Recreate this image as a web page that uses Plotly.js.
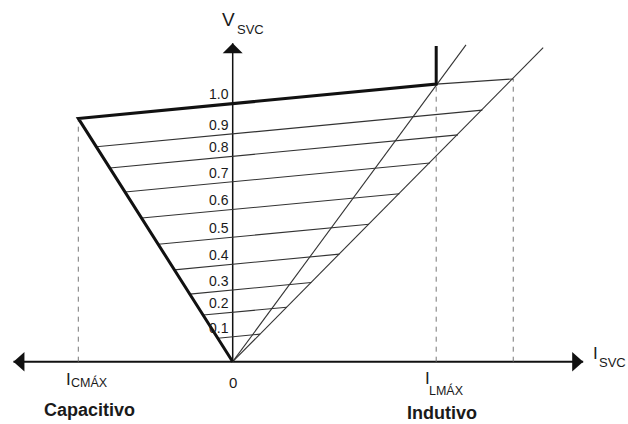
<!DOCTYPE html>
<html>
<head>
<meta charset="utf-8">
<script src="https://cdn.plot.ly/plotly-3.0.1.min.js"></script>
<style>html,body{margin:0;padding:0;background:#fff;}#chart{width:628px;height:424px;}</style>
</head>
<body>
<div id="chart"></div>
<script>
// ---- data (I in units of I_CMAX, V in pu) ----
const levelLabels = ["0.1","0.2","0.3","0.4","0.5","0.6","0.7","0.8","0.9"];
const levelLeftI  = [-0.097,-0.191,-0.278,-0.378,-0.482,-0.589,-0.697,-0.796,-0.883];
const levelLeftV  = [0.091,0.181,0.262,0.356,0.455,0.557,0.658,0.751,0.833];
const levelRightI = [0.177,0.350,0.509,0.691,0.883,1.080,1.277,1.459,1.617];
const levelRightV = [0.107,0.211,0.307,0.417,0.533,0.651,0.770,0.879,0.975];

const characteristicI = [0, -1.0, 1.318, 1.318];
const characteristicV = [0, 0.943, 1.076, 1.224];
const topLabel = "1.0";
const extensionI = [1.318, 1.817];
const extensionV = [1.076, 1.096];
const slope1I = [0, 1.511];
const slope1V = [0, 1.228];
const slope2I = [0, 2.011];
const slope2V = [0, 1.217];
const axisIRange = [-1.42, 2.27];
const axisVMax = 1.234;

// ---- page geometry helpers (layout only) ----
const W = 628, H = 424;
const xRange = [-232.7/154.4, (W-232.7)/154.4];
const yRange = [(361.7-H)/258, 361.7/258];
const px = p => p / W;           // paper x from pixel
const py = p => 1 - p / H;       // paper y from pixel

const lineCol = '#111';
const thinCol = '#333';
const dashCol = '#777';

const traces = [];
// horizontal axis
traces.push({x: axisIRange, y: [0, 0], mode: 'lines', line: {color: lineCol, width: 2}, hoverinfo: 'skip'});
// vertical axis
traces.push({x: [0, 0], y: [0, axisVMax], mode: 'lines', line: {color: lineCol, width: 1.5}, hoverinfo: 'skip'});

// dashed limits
const dx = [], dy = [];
[[characteristicI[1], characteristicV[1]], [characteristicI[2], characteristicV[2]], [extensionI[1], extensionV[1]]].forEach(p => {
  dx.push(p[0], p[0], null); dy.push(0, p[1], null);
});
traces.push({x: dx, y: dy, mode: 'lines', line: {color: dashCol, width: 1, dash: '5px,5px'}, hoverinfo: 'skip'});

// level lines
const lx = [], ly = [];
levelLabels.forEach((l, i) => {
  lx.push(levelLeftI[i], levelRightI[i], null);
  ly.push(levelLeftV[i], levelRightV[i], null);
});
lx.push(extensionI[0], extensionI[1]); ly.push(extensionV[0], extensionV[1]);
traces.push({x: lx, y: ly, mode: 'lines', line: {color: thinCol, width: 1.1}, hoverinfo: 'skip'});

// inductive slope lines
traces.push({x: slope1I, y: slope1V, mode: 'lines', line: {color: thinCol, width: 1.1}, hoverinfo: 'skip'});
traces.push({x: slope2I, y: slope2V, mode: 'lines', line: {color: thinCol, width: 1.1}, hoverinfo: 'skip'});

// thick characteristic
traces.push({x: characteristicI, y: characteristicV, mode: 'lines', line: {color: lineCol, width: 3}, hoverinfo: 'skip'});

// arrowheads (pixel-sized shapes anchored at axis ends)
const shapes = [
  {type: 'path', xref: 'x', yref: 'y', xsizemode: 'pixel', ysizemode: 'pixel', xanchor: 0, yanchor: axisVMax,
   path: 'M0,0 L-10,-10 L10,-10 Z', fillcolor: lineCol, line: {width: 0}},
  {type: 'path', xref: 'x', yref: 'y', xsizemode: 'pixel', ysizemode: 'pixel', xanchor: axisIRange[0], yanchor: 0,
   path: 'M0,0 L11,9.7 L11,-9.7 Z', fillcolor: lineCol, line: {width: 0}},
  {type: 'path', xref: 'x', yref: 'y', xsizemode: 'pixel', ysizemode: 'pixel', xanchor: axisIRange[1], yanchor: 0,
   path: 'M0,0 L-11,9.7 L-11,-9.7 Z', fillcolor: lineCol, line: {width: 0}}
];

const font = 'Liberation Sans, Arial, sans-serif';
const txtCol = '#1a1a1a';
const ann = [];
function addText(text, x, y, size, opts) {
  ann.push(Object.assign({text: text, x: x, y: y, xref: 'paper', yref: 'paper', showarrow: false,
    xanchor: 'center', yanchor: 'middle', borderpad: 0, font: {family: font, size: size, color: txtCol}}, opts || {}));
}

// level labels at the V-axis crossing of each line
levelLabels.forEach((l, i) => {
  const t = -levelLeftI[i] / (levelRightI[i] - levelLeftI[i]);
  const v0 = levelLeftV[i] + t * (levelRightV[i] - levelLeftV[i]);
  ann.push({text: l, x: -0.015, y: v0, xref: 'x', yref: 'y', showarrow: false, xanchor: 'right', yanchor: 'bottom',
    borderpad: 0, yshift: 0, font: {family: font, size: 14, color: txtCol}});
});
{
  const t = -characteristicI[1] / (characteristicI[2] - characteristicI[1]);
  const v0 = characteristicV[1] + t * (characteristicV[2] - characteristicV[1]);
  ann.push({text: topLabel, x: -0.015, y: v0, xref: 'x', yref: 'y', showarrow: false, xanchor: 'right', yanchor: 'bottom',
    borderpad: 0, yshift: 1, font: {family: font, size: 14, color: txtCol}});
}

// axis titles
addText('V', px(229), py(20), 19);
addText('SVC', px(236), py(29), 13, {xanchor: 'left'});
addText('I', px(595), py(353), 17);
addText('SVC', px(598), py(362), 13, {xanchor: 'left'});
// tick-like labels
addText('I', px(68.5), py(379), 17);
addText('CMÁX', px(69.5), py(382), 12.5, {xanchor: 'left'});
addText('0', px(233.3), py(382), 15);
addText('I', px(427), py(378.5), 17);
addText('LMÁX', px(428), py(390), 12.5, {xanchor: 'left'});
addText('<b>Capacitivo</b>', px(89), py(410), 18);
addText('<b>Indutivo</b>', px(441.7), py(413), 18);

const layout = {
  width: W, height: H,
  margin: {l: 0, r: 0, t: 0, b: 0},
  paper_bgcolor: '#fff', plot_bgcolor: '#fff',
  showlegend: false,
  xaxis: {range: xRange, visible: false, fixedrange: true},
  yaxis: {range: yRange, visible: false, fixedrange: true},
  shapes: shapes,
  annotations: ann
};

Plotly.newPlot('chart', traces, layout, {staticPlot: true, displayModeBar: false});
</script>
</body>
</html>
